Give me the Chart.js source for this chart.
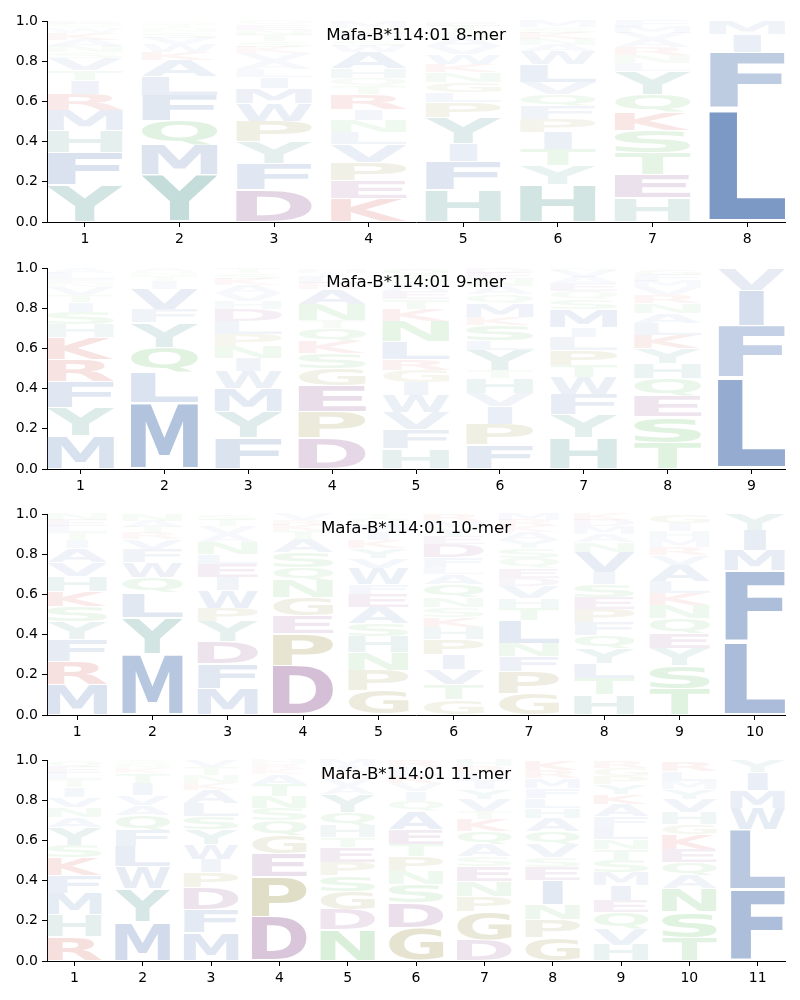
<!DOCTYPE html>
<html>
<head>
<meta charset="utf-8">
<script src="https://cdn.jsdelivr.net/npm/chart.js@4.4.1/dist/chart.umd.min.js"></script>
<style>
  body { margin: 0; background: #fff; }
  .panel { position: absolute; left: 0; width: 800px; height: 246px; }
</style>
</head>
<body>
<div class="panel" style="top:0"><canvas id="logo8" width="800" height="246"></canvas></div>
<div class="panel" style="top:247px"><canvas id="logo9" width="800" height="246"></canvas></div>
<div class="panel" style="top:493px"><canvas id="logo10" width="800" height="246"></canvas></div>
<div class="panel" style="top:739px"><canvas id="logo11" width="800" height="246"></canvas></div>
<script>
// logo stacks, each column read bottom -> top
const allele = 'Mafa-B*114:01';

const mer8Letters = ['YFHMRITVSNAKWQE', 'YMQFLAKWVSNTG', 'DFYPWMILAVKSTNEQ', 'KEPVLNIRTQHAWSFGM',
  'HFIYPLGNKWVASTE', 'HYTIPFQVLWANKSM', 'HETSKQYLNRAVMF', 'LFIM'];
const mer8Probs = [
  [.185, .16, .11, .10, .08, .07, .05, .06, .03, .03, .03, .035, .025, .02, .015],
  [.235, .147, .12, .127, .096, .08, .04, .04, .03, .03, .02, .02, .015],
  [.16, .13, .11, .10, .09, .075, .055, .04, .04, .04, .03, .03, .03, .025, .025, .02],
  [.115, .09, .09, .09, .06, .06, .055, .075, .04, .04, .05, .08, .03, .03, .03, .03, .03],
  [.16, .14, .09, .13, .075, .05, .05, .05, .04, .05, .04, .04, .03, .03, .02],
  [.185, .095, .08, .085, .065, .065, .06, .06, .09, .065, .03, .03, .03, .03, .03],
  [.12, .115, .11, .11, .09, .09, .115, .04, .04, .04, .04, .03, .03, .03],
  [.565, .28, .09, .065]
];

const mer9Letters = ['MYFRKHSITVNELA', 'MLQYFVITNA', 'FYMWINPLDHVAKST', 'DPEGSKQTNARLIH',
  'HFVWIGRLNKTEASQ', 'FPIVHTYLSKMQANED', 'HYFWTPLIMSQEAVN', 'TSEQHYKLANRVMFG', 'LFIV'];
const mer9Probs = [
  [.165, .14, .13, .11, .11, .065, .06, .05, .035, .04, .02, .02, .03, .025],
  [.33, .15, .125, .125, .065, .10, .04, .025, .02, .02],
  [.155, .13, .115, .085, .065, .06, .06, .065, .06, .04, .04, .04, .03, .03, .025],
  [.155, .13, .13, .085, .075, .06, .065, .04, .08, .075, .03, .03, .02, .02],
  [.10, .095, .085, .085, .065, .06, .055, .09, .10, .06, .05, .04, .04, .04, .035],
  [.12, .10, .09, .065, .075, .04, .10, .05, .075, .04, .07, .045, .04, .035, .03, .025],
  [.155, .115, .10, .085, .06, .075, .065, .05, .09, .05, .04, .04, .03, .03, .015],
  [.13, .13, .10, .09, .075, .075, .065, .06, .05, .05, .04, .04, .03, .03, .03],
  [.455, .255, .18, .11]
];

const mer10Letters = ['MRFYSKHVAITLEN', 'MYLQWFVRTAN', 'MFDYPWIELNAVTS', 'DPEGNQSATKRV',
  'GPNHSAEFWVYKIMQT', 'GTVIPHKSNQALFDEYMR', 'GPFNLTHVDEQSYAKRM', 'HTLYQFPESIVNAMDK',
  'TSYEQNKLAVRMHIG', 'LFMIY'];
const mer10Probs = [
  [.15, .115, .11, .09, .075, .075, .075, .07, .07, .04, .04, .03, .03, .03],
  [.305, .18, .125, .075, .075, .065, .05, .03, .03, .03, .035],
  [.13, .125, .11, .10, .065, .09, .065, .065, .05, .06, .04, .04, .03, .03],
  [.245, .16, .09, .09, .085, .065, .075, .065, .04, .03, .025, .03],
  [.12, .10, .09, .08, .065, .08, .065, .05, .08, .05, .05, .04, .04, .04, .03, .02],
  [.075, .075, .075, .075, .075, .06, .05, .05, .05, .065, .05, .035, .05, .065, .04, .04, .035, .035],
  [.105, .11, .075, .065, .115, .06, .05, .06, .04, .05, .05, .05, .04, .04, .03, .03, .03],
  [.10, .08, .075, .075, .065, .065, .065, .06, .065, .06, .10, .05, .04, .04, .03, .03],
  [.13, .115, .085, .075, .075, .065, .06, .06, .08, .05, .04, .04, .04, .04, .045],
  [.365, .355, .10, .10, .08]
];

const mer11Letters = ['RHMFKSYANVITLEQ', 'MYWLFQAVITKNS', 'MFDPIWYSLAKNTV', 'DPEGQSNTAKRH',
  'NDGSPETHQYAVKIM', 'GDSNPTEAQIVKLR', 'DGPNESAQKTVYILRH', 'GPNIESVQAHLFMRK',
  'HVQEIMSTNLFAKYPGR', 'TSNAQEKGHVYMLR', 'FLWMIY'];
const mer11Probs = [
  [.12, .11, .105, .09, .09, .06, .09, .05, .05, .05, .05, .04, .03, .03, .03],
  [.195, .165, .11, .10, .08, .075, .05, .05, .06, .05, .025, .02, .02],
  [.14, .115, .11, .075, .065, .075, .075, .065, .065, .065, .035, .04, .04, .035],
  [.22, .20, .115, .09, .075, .06, .06, .06, .05, .025, .025, .025],
  [.155, .10, .09, .08, .065, .075, .05, .06, .065, .09, .04, .04, .03, .03, .03],
  [.165, .125, .09, .065, .075, .06, .075, .09, .05, .05, .04, .04, .04, .035],
  [.105, .14, .075, .075, .075, .05, .06, .065, .06, .04, .06, .05, .04, .04, .035, .035],
  [.115, .09, .075, .12, .065, .05, .065, .065, .065, .05, .05, .05, .05, .04, .05],
  [.08, .08, .08, .06, .075, .065, .06, .055, .05, .06, .055, .06, .05, .05, .04, .04, .035],
  [.115, .13, .115, .065, .065, .065, .075, .05, .06, .065, .05, .04, .05, .05],
  [.355, .30, .105, .09, .09, .06]
];

// colour groups (rgb), alpha grows with the letter's share
const groupColors = [
  ['ACFILMVW', [76, 114, 176]],
  ['YH', [65, 145, 134]],
  ['DE', [124, 55, 127]],
  ['PG', [140, 128, 40]],
  ['KR', [200, 55, 45]],
  ['STNQ', [70, 175, 70]]
];
function letterColor(ch, p) {
  let rgb = [128, 128, 128];
  groupColors.forEach(g => { if (g[0].includes(ch)) rgb = g[1]; });
  let a = Math.min(1, p * 1.3);
  return `rgba(${rgb[0]},${rgb[1]},${rgb[2]},${a})`;
}

const glyphFont = 'bold 200px "DejaVu Sans"';
function glyphBox(ctx, ch) {
  ctx.font = glyphFont;
  let m = ctx.measureText(ch);
  return { l: m.actualBoundingBoxLeft, r: m.actualBoundingBoxRight, a: m.actualBoundingBoxAscent, d: m.actualBoundingBoxDescent };
}
function drawGlyph(ctx, ch, left, top, w, h, color) {
  let b = glyphBox(ctx, ch), e = glyphBox(ctx, 'E');
  let gw = b.l + b.r, gh = b.a + b.d;
  let sx = Math.min(w / gw, w / (e.l + e.r)); // no wider stretch than an E
  let sy = h / gh;
  ctx.save();
  ctx.translate(left + (w - gw * sx) / 2, top);
  ctx.scale(sx, sy);
  ctx.fillStyle = color;
  ctx.textAlign = 'left';
  ctx.textBaseline = 'alphabetic';
  ctx.fillText(ch, b.l, b.a);
  ctx.restore();
}

const letterPlugin = {
  id: 'letters',
  afterDatasetsDraw(chart) {
    let ctx = chart.ctx;
    chart.data.datasets.forEach((ds, di) => {
      let meta = chart.getDatasetMeta(di);
      meta.data.forEach((bar, i) => {
        let ch = ds.letters[i];
        if (!ch) return;
        let { x, y, base, width } = bar.getProps(['x', 'y', 'base', 'width'], true);
        let top = Math.min(y, base), h = Math.abs(base - y);
        if (h < 0.5) return;
        let pad = h * 0.025;
        drawGlyph(ctx, ch, x - width / 2, top + pad, width, h - 2 * pad, letterColor(ch, ds.data[i].y));
      });
    });
  },
  afterDraw(chart) {
    let ctx = chart.ctx, a = chart.chartArea;
    ctx.save();
    ctx.font = '16.67px "DejaVu Sans"';
    ctx.fillStyle = '#000';
    ctx.textAlign = 'center';
    ctx.textBaseline = 'middle';
    ctx.fillText(chart.options.logoTitle, (a.left + a.right) / 2, a.top + 15);
    ctx.restore();
  }
};

function makeLogo(canvasId, letters, probs, title) {
  let n = letters.length;
  let depth = Math.max(...letters.map(s => s.length));
  let datasets = [];
  for (let r = 0; r < depth; r++) {
    datasets.push({
      data: letters.map((s, i) => ({ x: i + 1, y: r < s.length ? probs[i][r] : 0 })),
      letters: letters.map(s => s[r] || ''),
      backgroundColor: 'rgba(0,0,0,0)',
      borderWidth: 0,
      categoryPercentage: 0.8,
      barPercentage: 1
    });
  }
  let positions = letters.map((s, i) => i + 1);
  let tickFont = { family: 'DejaVu Sans', size: 14 };
  return new Chart(document.getElementById(canvasId), {
    type: 'bar',
    data: { datasets },
    plugins: [letterPlugin],
    options: {
      logoTitle: title,
      responsive: false,
      animation: false,
      devicePixelRatio: 1,
      layout: { padding: { top: 21, right: 15, left: 0, bottom: 0 } },
      plugins: { legend: { display: false }, tooltip: { enabled: false } },
      scales: {
        x: {
          type: 'linear', min: 0.6, max: n + 0.4, stacked: true, offset: false,
          grid: { offset: false, drawOnChartArea: false, drawTicks: true, tickLength: 5, color: '#000' },
          border: { display: true, color: '#000', width: 1 },
          ticks: { color: '#000', font: tickFont, padding: 4, maxRotation: 0 },
          afterBuildTicks: s => { s.ticks = positions.map(v => ({ value: v })); },
          afterFit: s => { s.height = 24; }
        },
        y: {
          min: 0, max: 1, stacked: true,
          grid: { drawOnChartArea: false, drawTicks: true, tickLength: 5, color: '#000' },
          border: { display: true, color: '#000', width: 1 },
          ticks: { stepSize: 0.2, color: '#000', font: tickFont, padding: 4, callback: v => v.toFixed(1) },
          afterFit: s => { s.width = 47; }
        }
      }
    }
  });
}

makeLogo('logo8', mer8Letters, mer8Probs, allele + ' 8-mer');
makeLogo('logo9', mer9Letters, mer9Probs, allele + ' 9-mer');
makeLogo('logo10', mer10Letters, mer10Probs, allele + ' 10-mer');
makeLogo('logo11', mer11Letters, mer11Probs, allele + ' 11-mer');
</script>
</body>
</html>
